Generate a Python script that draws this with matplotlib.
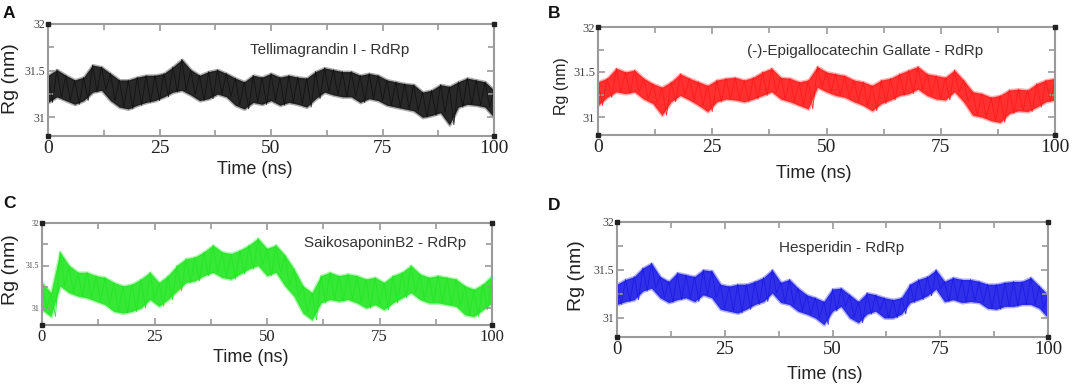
import numpy as np
import matplotlib
matplotlib.use("Agg")
import matplotlib.pyplot as plt
from matplotlib.ticker import MultipleLocator

# ---------------- data (envelope every 2 ns) -------------
time_ns = list(range(0, 101, 2))
xticks = [0, 25, 50, 75, 100]
yticks = [31, 31.5, 32]
ytick_labels = ["31", "31.5", "32"]

titles = ["Tellimagrandin I - RdRp", "(-)-Epigallocatechin Gallate - RdRp",
          "SaikosaponinB2 - RdRp", "Hesperidin - RdRp"]
letters = ["A", "B", "C", "D"]
colors = ["#111111", "#ff1a1a", "#22e622", "#1a1ae6"]

a_hi = [31.45, 31.51, 31.45, 31.40, 31.43, 31.56, 31.54, 31.47, 31.40, 31.40, 31.43,
        31.45, 31.45, 31.47, 31.54, 31.62, 31.51, 31.45, 31.49, 31.51, 31.47, 31.42,
        31.38, 31.45, 31.43, 31.47, 31.43, 31.45, 31.43, 31.42, 31.49, 31.53, 31.51,
        31.49, 31.49, 31.45, 31.47, 31.45, 31.40, 31.38, 31.36, 31.35, 31.27, 31.29,
        31.35, 31.33, 31.38, 31.42, 31.40, 31.38, 31.29]
a_lo = [31.16, 31.22, 31.18, 31.14, 31.18, 31.27, 31.29, 31.18, 31.11, 31.09, 31.13,
        31.16, 31.18, 31.22, 31.27, 31.29, 31.24, 31.18, 31.20, 31.25, 31.22, 31.13,
        31.09, 31.16, 31.14, 31.18, 31.13, 31.16, 31.14, 31.11, 31.20, 31.27, 31.24,
        31.22, 31.22, 31.16, 31.20, 31.18, 31.13, 31.11, 31.09, 31.07, 31.00, 31.02,
        31.05, 30.92, 31.11, 31.14, 31.13, 31.11, 31.00]

b_hi = [31.39, 31.43, 31.54, 31.50, 31.52, 31.43, 31.37, 31.33, 31.39, 31.48, 31.43,
        31.39, 31.35, 31.41, 31.43, 31.44, 31.41, 31.44, 31.50, 31.54, 31.44, 31.43,
        31.39, 31.41, 31.56, 31.50, 31.48, 31.46, 31.41, 31.39, 31.35, 31.41, 31.43,
        31.48, 31.52, 31.56, 31.48, 31.46, 31.44, 31.52, 31.41, 31.28, 31.26, 31.22,
        31.24, 31.30, 31.31, 31.30, 31.37, 31.41, 31.43]
b_lo = [31.13, 31.22, 31.28, 31.26, 31.28, 31.20, 31.15, 31.02, 31.17, 31.24, 31.19,
        31.13, 31.06, 31.17, 31.20, 31.19, 31.17, 31.20, 31.24, 31.28, 31.20, 31.17,
        31.13, 31.09, 31.33, 31.28, 31.24, 31.22, 31.17, 31.13, 31.07, 31.15, 31.19,
        31.24, 31.26, 31.31, 31.24, 31.20, 31.19, 31.28, 31.17, 31.02, 31.00, 30.96,
        30.94, 31.04, 31.07, 31.06, 31.11, 31.17, 31.19]

c_hi = [31.30, 31.18, 31.66, 31.50, 31.42, 31.42, 31.38, 31.36, 31.30, 31.26, 31.28,
        31.34, 31.42, 31.30, 31.38, 31.50, 31.58, 31.60, 31.66, 31.74, 31.66, 31.64,
        31.68, 31.74, 31.82, 31.70, 31.74, 31.62, 31.46, 31.26, 31.18, 31.38, 31.42,
        31.38, 31.40, 31.38, 31.34, 31.36, 31.30, 31.38, 31.42, 31.50, 31.40, 31.36,
        31.38, 31.36, 31.34, 31.26, 31.22, 31.28, 31.38]
c_lo = [30.98, 30.90, 31.26, 31.18, 31.14, 31.12, 31.08, 31.04, 30.96, 30.94, 30.96,
        31.00, 31.10, 31.02, 31.10, 31.20, 31.30, 31.32, 31.38, 31.42, 31.36, 31.34,
        31.40, 31.46, 31.50, 31.38, 31.42, 31.26, 31.14, 30.94, 30.86, 31.06, 31.10,
        31.08, 31.10, 31.06, 31.00, 31.04, 30.98, 31.06, 31.12, 31.18, 31.10, 31.06,
        31.06, 31.04, 31.02, 30.92, 30.90, 30.98, 31.06]

d_hi = [31.35, 31.40, 31.43, 31.52, 31.57, 31.43, 31.38, 31.47, 31.45, 31.43, 31.50,
        31.49, 31.35, 31.33, 31.35, 31.35, 31.38, 31.42, 31.50, 31.37, 31.40, 31.31,
        31.24, 31.21, 31.17, 31.30, 31.31, 31.24, 31.17, 31.26, 31.24, 31.21, 31.19,
        31.21, 31.35, 31.40, 31.43, 31.50, 31.38, 31.42, 31.40, 31.40, 31.38, 31.35,
        31.35, 31.37, 31.38, 31.38, 31.42, 31.33, 31.24]
d_lo = [31.14, 31.17, 31.19, 31.28, 31.31, 31.21, 31.16, 31.19, 31.21, 31.17, 31.24,
        31.21, 31.09, 31.07, 31.05, 31.09, 31.14, 31.17, 31.26, 31.16, 31.14, 31.07,
        31.04, 31.00, 30.93, 31.07, 31.12, 31.00, 30.95, 31.04, 31.07, 31.00, 31.00,
        31.04, 31.16, 31.19, 31.23, 31.30, 31.17, 31.19, 31.16, 31.17, 31.16, 31.10,
        31.09, 31.12, 31.12, 31.14, 31.14, 31.10, 31.00]

his = [a_hi, b_hi, c_hi, d_hi]
los = [a_lo, b_lo, c_lo, d_lo]

# ---------------- layout ----------------
W, H = 1072, 388
fig = plt.figure(figsize=(W / 100, H / 100), dpi=100)

def rect(l, r, t, b):
    return [l / W, 1 - b / H, (r - l) / W, (b - t) / H]

rects = [rect(48, 494, 24, 136), rect(598, 1055, 27, 135),
         rect(42, 492, 223, 325), rect(617, 1048, 222, 337)]
title_pos = [(0.632, 0.77), (0.584, 0.78), (0.762, 0.80), (0.522, 0.77)]
xlabel_pos = [(0.464, -0.295), (0.473, -0.352), (0.464, -0.32), (0.483, -0.33)]
ylabel_pos = [(-0.085, 0.51), (-0.079, 0.454), (-0.071, 0.54), (-0.095, 0.53)]
ylabel_size = [14, 11.5, 14, 14]
xtick_size = [14, 14, 12, 13.5]
ytick_size = [8.5, 9, 5.5, 8.5]
letter_pos = [(3, 14), (548, 14), (3, 204), (548, 205)]

spine_col = "#9a9a9a"
serif = "Liberation Serif"
sans = "Liberation Sans"

for i in range(4):
    ax = fig.add_axes(rects[i])
    t = np.array(time_ns, dtype=float)
    hi = np.array(his[i])
    lo = np.array(los[i])
    # fuzzy outer edge and dense core of the fluctuating trace
    ax.fill_between(t, lo, hi, color=colors[i], alpha=0.35, lw=2.2,
                    edgecolor=colors[i])
    ax.fill_between(t, lo, hi, color=colors[i], alpha=0.85, lw=0)
    # zig-zag through the read envelope values for texture
    zx = np.empty(2 * len(t) - 1)
    zy = np.empty(2 * len(t) - 1)
    zx[0::2] = t
    zy[0::2] = hi
    zx[1::2] = t[:-1] + 1
    zy[1::2] = lo[:-1]
    ax.plot(zx, zy, color=colors[i], lw=0.6, alpha=0.9)

    ax.set_xlim(0, 100)
    ax.set_ylim(30.8, 32)
    ax.set_xticks(xticks)
    ax.set_xticklabels([str(v) for v in xticks])
    ax.set_yticks(yticks)
    ax.set_yticklabels(ytick_labels)
    ax.xaxis.set_minor_locator(MultipleLocator(12.5))
    ax.yaxis.set_minor_locator(MultipleLocator(0.25))
    ax.tick_params(which="both", direction="in", top=True, right=True,
                   color=spine_col, width=1.2)
    ax.tick_params(which="major", length=5)
    ax.tick_params(which="minor", length=4.5)
    ax.tick_params(axis="x", labelsize=xtick_size[i], labelfontfamily=serif,
                   labelcolor="#222222", pad=3)
    ax.tick_params(axis="y", labelsize=ytick_size[i], labelfontfamily=serif,
                   labelcolor="#444444", pad=2)
    for sp in ax.spines.values():
        sp.set_color(spine_col)
        sp.set_linewidth(1.5)
    # small dark squares at the frame corners
    ax.plot([0, 0, 1, 1], [0, 1, 0, 1], "s", ms=3.2, color="#222222",
            transform=ax.transAxes, clip_on=False, zorder=5)

    ax.text(title_pos[i][0], title_pos[i][1], titles[i], transform=ax.transAxes,
            ha="center", va="center", fontsize=11, family=sans, color="#333333")
    ax.set_xlabel("Time (ns)", fontsize=13, family=sans, color="#222222")
    ax.xaxis.set_label_coords(*xlabel_pos[i])
    ax.xaxis.label.set_va("center")
    ax.set_ylabel("Rg (nm)", fontsize=ylabel_size[i], family=sans, color="#222222")
    ax.yaxis.set_label_coords(*ylabel_pos[i])
    ax.yaxis.label.set_va("center")

    fig.text(letter_pos[i][0] / W, 1 - letter_pos[i][1] / H, letters[i],
             ha="left", va="center", fontsize=12.5, fontweight="bold",
             family=sans, color="#111111")

fig.savefig("out.png", dpi=100)
